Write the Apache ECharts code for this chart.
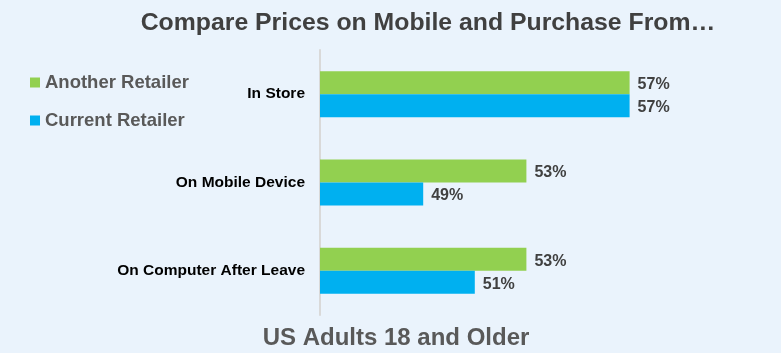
<!DOCTYPE html>
<html lang="en">
<head>
    <meta charset="UTF-8">
    <title>Compare Prices</title>
    <script src="https://cdn.jsdelivr.net/npm/echarts@6/dist/echarts.min.js"></script>
</head>
<body style="margin: 0; background: #EAF3FC">
<div id="chart" style="width: 781px; height: 353px"></div>
<script>
    let categories = ['In Store', 'On Mobile Device', 'On Computer After Leave'];
    let anotherRetailer = [57, 53, 53];
    let currentRetailer = [57, 49, 51];

    let chart = echarts.init(document.getElementById('chart'));

    let labelStyle = {
        show: true,
        position: 'right',
        distance: 8,
        offset: [0, 2],
        formatter: '{c}%',
        fontFamily: 'Liberation Sans',
        fontWeight: 'bold',
        fontSize: 16,
        color: '#404040'
    };

    chart.setOption({
        backgroundColor: '#EAF3FC',
        title: [{
            text: 'Compare Prices on Mobile and Purchase From…',
            left: 423,
            textAlign: 'center',
            top: 6,
            textStyle: { fontFamily: 'Liberation Sans', fontWeight: 'bold', fontSize: 24.8, color: '#404040' }
        }, {
            text: 'US Adults 18 and Older',
            left: 391,
            textAlign: 'center',
            top: 321,
            textStyle: { fontFamily: 'Liberation Sans', fontWeight: 'bold', fontSize: 24, color: '#595959' }
        }],
        legend: {
            orient: 'vertical',
            left: 25,
            top: 68,
            icon: 'rect',
            itemWidth: 10,
            itemHeight: 10,
            itemGap: 19,
            textStyle: { fontFamily: 'Liberation Sans', fontWeight: 'bold', fontSize: 18.5, color: '#595959' }
        },
        grid: { left: 320, right: 74, top: 50, height: 265, containLabel: false },
        xAxis: {
            type: 'value',
            min: 45,
            max: 60,
            show: false,
            splitLine: { show: false }
        },
        yAxis: {
            type: 'category',
            data: categories,
            inverse: true,
            axisLine: { show: true, lineStyle: { color: '#D9D9D9', width: 2 } },
            axisTick: { show: false },
            axisLabel: {
                margin: 15,
                fontFamily: 'Liberation Sans',
                fontWeight: 'bold',
                fontSize: 15.5,
                color: '#000000'
            }
        },
        series: [{
            name: 'Another Retailer',
            type: 'bar',
            data: anotherRetailer,
            barWidth: 23,
            barGap: '0%',
            itemStyle: { color: '#92D050' },
            label: labelStyle
        }, {
            name: 'Current Retailer',
            type: 'bar',
            data: currentRetailer,
            barWidth: 23,
            barGap: '0%',
            itemStyle: { color: '#00B0F0' },
            label: labelStyle
        }]
    });
</script>
</body>
</html>
